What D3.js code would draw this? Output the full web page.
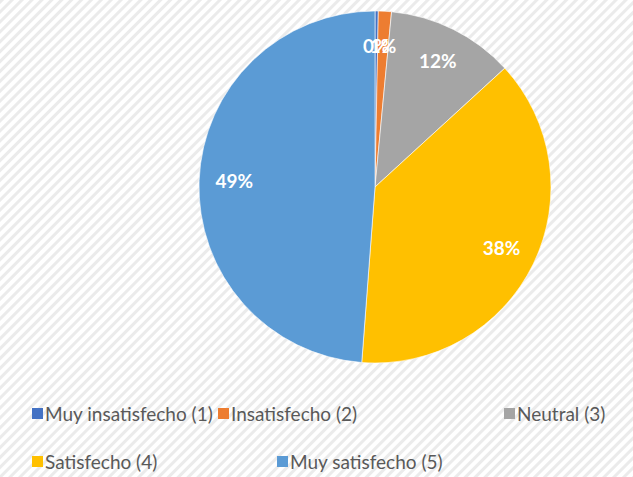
<!DOCTYPE html>
<html>
<head>
<meta charset="utf-8">
<script src="https://cdn.jsdelivr.net/npm/d3@7"></script>
<style>
  body { margin: 0; background: #fff; }
  svg { display: block; }
</style>
</head>
<body>
<svg id="chart"></svg>
<script>
// Chart data
const categories = ["Muy insatisfecho (1)", "Insatisfecho (2)", "Neutral (3)", "Satisfecho (4)", "Muy satisfecho (5)"];
const values = [0.3, 1.2, 11.7, 38.0, 48.8];
const labels = ["0%", "1%", "12%", "38%", "49%"];
const colors = ["#4472C4", "#ED7D31", "#A5A5A5", "#FFC000", "#5B9BD5"];

const width = 633, height = 477;
const cx = 375, cy = 187, radius = 176;

const svg = d3.select("#chart")
    .attr("width", width)
    .attr("height", height);

// Diagonal striped background
const defs = svg.append("defs");
const pattern = defs.append("pattern")
    .attr("id", "stripes")
    .attr("patternUnits", "userSpaceOnUse")
    .attr("width", 7)
    .attr("height", 7)
    .attr("patternTransform", "rotate(45)");
pattern.append("rect").attr("width", 7).attr("height", 7).attr("fill", "#ffffff");
pattern.append("rect").attr("width", 3).attr("height", 7).attr("fill", "#ebebeb");

svg.append("rect")
    .attr("width", width)
    .attr("height", height)
    .attr("fill", "url(#stripes)");

// Pie
const pie = d3.pie().sort(null).value(d => d);
const arcs = pie(values);
const arc = d3.arc().innerRadius(0).outerRadius(radius);
const labelArc = d3.arc().innerRadius(radius * 0.8).outerRadius(radius * 0.8);

const g = svg.append("g").attr("transform", `translate(${cx},${cy})`);

g.selectAll("path")
    .data(arcs)
    .enter()
    .append("path")
    .attr("d", arc)
    .attr("fill", (d, i) => colors[i])
    .attr("stroke", "#ffffff")
    .attr("stroke-width", 0.6);

g.selectAll("text.lbl")
    .data(arcs)
    .enter()
    .append("text")
    .attr("class", "lbl")
    .attr("transform", d => `translate(${labelArc.centroid(d)})`)
    .attr("text-anchor", "middle")
    .attr("dy", "0.35em")
    .style("font-family", "Lato, 'Noto Sans', sans-serif")
    .style("font-weight", "bold")
    .style("font-size", "19px")
    .style("fill", "#ffffff")
    .text((d, i) => labels[i]);

// Legend
const legendPos = [
    { x: 32, y: 414 },
    { x: 218, y: 414 },
    { x: 504, y: 414 },
    { x: 32, y: 462 },
    { x: 277, y: 462 }
];

const legend = svg.append("g");
const items = legend.selectAll("g")
    .data(categories)
    .enter()
    .append("g")
    .attr("transform", (d, i) => `translate(${legendPos[i].x},${legendPos[i].y})`);

items.append("rect")
    .attr("x", 0)
    .attr("y", -6)
    .attr("width", 11)
    .attr("height", 11)
    .attr("fill", (d, i) => colors[i]);

items.append("text")
    .attr("x", 13)
    .attr("dy", "0.35em")
    .style("font-family", "Lato, 'Noto Sans', sans-serif")
    .style("font-size", "19px")
    .style("fill", "#595959")
    .text(d => d);
</script>
</body>
</html>
